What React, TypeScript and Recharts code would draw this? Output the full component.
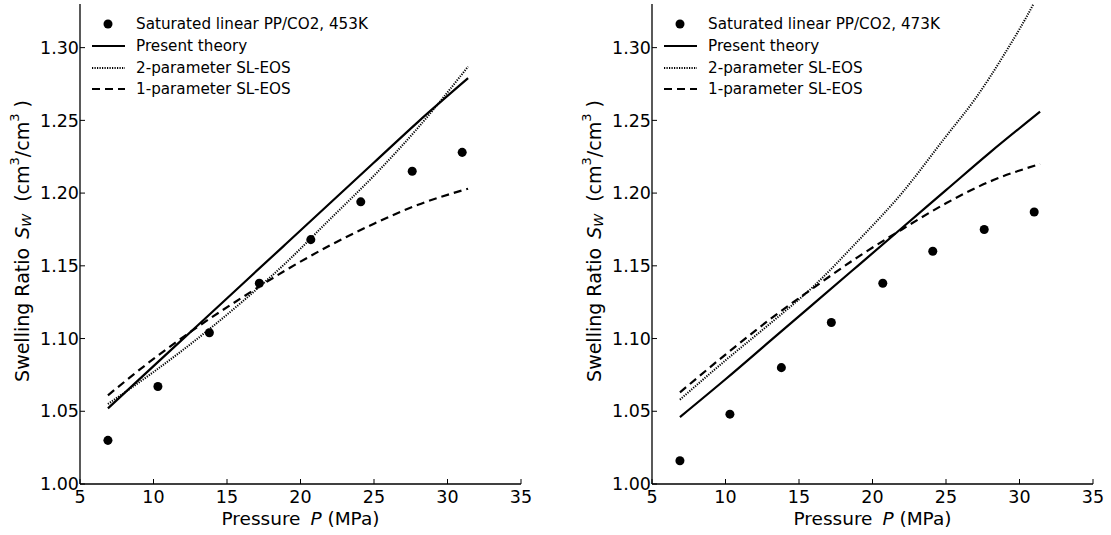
import { ComposedChart, Line, Scatter, XAxis, YAxis, ZAxis, Legend } from 'recharts'

// measured data, pressure in MPa
const pressure = [6.9, 10.3, 13.8, 17.2, 20.7, 24.1, 27.6, 31.0]
const swelling453 = [1.030, 1.067, 1.104, 1.138, 1.168, 1.194, 1.215, 1.228]
const swelling473 = [1.016, 1.048, 1.080, 1.111, 1.138, 1.160, 1.175, 1.187]

// model curves
const curveP = [6.9, 10, 13, 16, 19, 22, 25, 28, 31.4]
const theory453 = [1.052, 1.081, 1.109, 1.137, 1.165, 1.193, 1.221, 1.249, 1.279]
const twoParam453 = [1.055, 1.077, 1.100, 1.125, 1.152, 1.182, 1.212, 1.245, 1.287]
const oneParam453 = [1.061, 1.086, 1.108, 1.128, 1.147, 1.164, 1.179, 1.192, 1.203]

const theory473 = [1.046, 1.072, 1.098, 1.124, 1.150, 1.176, 1.202, 1.228, 1.256]
const oneParam473 = [1.063, 1.089, 1.113, 1.135, 1.156, 1.175, 1.193, 1.208, 1.220]
const curveP2 = [6.9, 10, 13, 16, 19, 22, 25, 27, 29, 31, 31.4]
const twoParam473 = [1.058, 1.085, 1.110, 1.136, 1.167, 1.200, 1.239, 1.265, 1.296, 1.331, 1.339]

const xTicks = [5, 10, 15, 20, 25, 30, 35]
const yTicks = [1.0, 1.05, 1.1, 1.15, 1.2, 1.25, 1.3]

const FONT = 'DejaVu Sans'

const zip = (xs: number[], ys: number[]) => xs.map((p, i) => ({ p, s: ys[i] }))

function YLabel({ viewBox }: any) {
  const x = viewBox.x + viewBox.width - 58
  const y = viewBox.y + viewBox.height / 2 - 3
  return (
    <text x={x} y={y} transform={`rotate(-90, ${x}, ${y})`} textAnchor="middle" dominantBaseline="central"
      fontSize={19} fontFamily={FONT} fill="#000" style={{ whiteSpace: 'pre' }}>
      {'Swelling Ratio '}<tspan fontStyle="italic" dx={3}>S</tspan>
      <tspan fontStyle="italic" fontSize={13} dy={4}>W</tspan>
      <tspan dy={-4}>{'  (cm'}</tspan>
      <tspan fontSize={13} dy={-8}>3</tspan>
      <tspan dy={8}>/cm</tspan>
      <tspan fontSize={13} dy={-8}>3</tspan>
      <tspan dy={8}>{' )'}</tspan>
    </text>
  )
}

function XLabel({ viewBox }: any) {
  const x = viewBox.x + viewBox.width / 2
  return (
    <text x={x} y={525} textAnchor="middle" fontSize={18.5} fontFamily={FONT} fill="#000" style={{ whiteSpace: 'pre' }}>
      {'Pressure '}<tspan fontStyle="italic" dx={4}>P</tspan>{' (MPa)'}
    </text>
  )
}

const legendRows = [20, 42, 64, 85]

function LegendBox({ title }: { title: string }) {
  const names = [title, 'Present theory', '2-parameter SL-EOS', '1-parameter SL-EOS']
  return (
    <svg width={400} height={100} style={{ display: 'block' }}>
      <circle cx={28} cy={legendRows[0]} r={4.5} fill="#000" />
      <line x1={12} x2={45} y1={legendRows[1]} y2={legendRows[1]} stroke="#000" strokeWidth={2.2} />
      <line x1={12} x2={45} y1={legendRows[2]} y2={legendRows[2]} stroke="#000" strokeWidth={2} strokeDasharray="1.2 1.3" />
      <line x1={12} x2={45} y1={legendRows[3]} y2={legendRows[3]} stroke="#000" strokeWidth={2.2} strokeDasharray="8 5" />
      {names.map((n, i) => (
        <text key={n} x={56} y={legendRows[i]} dominantBaseline="central" fontSize={15.2} fontFamily={FONT} fill="#000">{n}</text>
      ))}
    </svg>
  )
}

interface PanelProps {
  width: number
  yWidth: number
  right: number
  title: string
  points: number[]
  theory: number[]
  twoX: number[]
  two: number[]
  one: number[]
}

function Panel({ width, yWidth, right, title, points, theory, twoX, two, one }: PanelProps) {
  const axisLine = { stroke: '#000', strokeWidth: 1.3 }
  const tickLine = { stroke: '#000', strokeWidth: 1 }
  return (
    <ComposedChart width={width} height={535} margin={{ top: 4, right, bottom: 21, left: 0 }}>
      <XAxis xAxisId="b" dataKey="p" type="number" domain={[5, 35]} ticks={xTicks} allowDataOverflow
        height={30} axisLine={axisLine} tickLine={tickLine} tickSize={-5} tickMargin={12}
        tick={{ fill: '#000', fontSize: 17.5, fontFamily: FONT }} label={<XLabel />} />
      <XAxis xAxisId="t" orientation="top" dataKey="p" type="number" domain={[5, 35]} ticks={xTicks} allowDataOverflow
        height={0} axisLine={axisLine} tickLine={tickLine} tickSize={-5} tick={false} />
      <YAxis yAxisId="l" dataKey="s" type="number" domain={[1.0, 1.33]} ticks={yTicks} allowDataOverflow
        width={yWidth} axisLine={axisLine} tickLine={tickLine} tickSize={-5} tickMargin={6}
        tickFormatter={(v: number) => v.toFixed(2)}
        tick={{ fill: '#000', fontSize: 17.5, fontFamily: FONT }} label={<YLabel />} />
      <YAxis yAxisId="r" orientation="right" dataKey="s" type="number" domain={[1.0, 1.33]} ticks={yTicks} allowDataOverflow
        width={0} axisLine={axisLine} tickLine={tickLine} tickSize={-5} tick={false} />
      <ZAxis range={[64, 64]} />
      <Line xAxisId="b" yAxisId="l" data={zip(twoX, two)} dataKey="s" type="monotone" stroke="#000"
        strokeWidth={2} strokeDasharray="1.2 1.3" dot={false} isAnimationActive={false} />
      <Line xAxisId="b" yAxisId="l" data={zip(curveP, one)} dataKey="s" type="monotone" stroke="#000"
        strokeWidth={2.2} strokeDasharray="8 5" dot={false} isAnimationActive={false} />
      <Line xAxisId="b" yAxisId="l" data={zip(curveP, theory)} dataKey="s" type="monotone" stroke="#000"
        strokeWidth={2.2} dot={false} isAnimationActive={false} />
      <Scatter xAxisId="b" yAxisId="l" data={zip(pressure, points)} dataKey="s" fill="#000" isAnimationActive={false} />
      <Legend layout="vertical" align="center" verticalAlign="middle"
        wrapperStyle={{ left: yWidth, top: 4, width: 400 }}
        content={() => <LegendBox title={title} />} />
    </ComposedChart>
  )
}

export default function App() {
  return (
    <div style={{ position: 'absolute', left: 0, top: 0, width: 1111, height: 535, background: '#fff', fontFamily: FONT }}>
      <div style={{ position: 'absolute', left: 0, top: 0 }}>
        <Panel width={555} yWidth={80} right={34} title="Saturated linear PP/CO2, 453K"
          points={swelling453} theory={theory453} twoX={curveP} two={twoParam453} one={oneParam453} />
      </div>
      <div style={{ position: 'absolute', left: 555, top: 0 }}>
        <Panel width={556} yWidth={97} right={18} title="Saturated linear PP/CO2, 473K"
          points={swelling473} theory={theory473} twoX={curveP2} two={twoParam473} one={oneParam473} />
      </div>
    </div>
  )
}
